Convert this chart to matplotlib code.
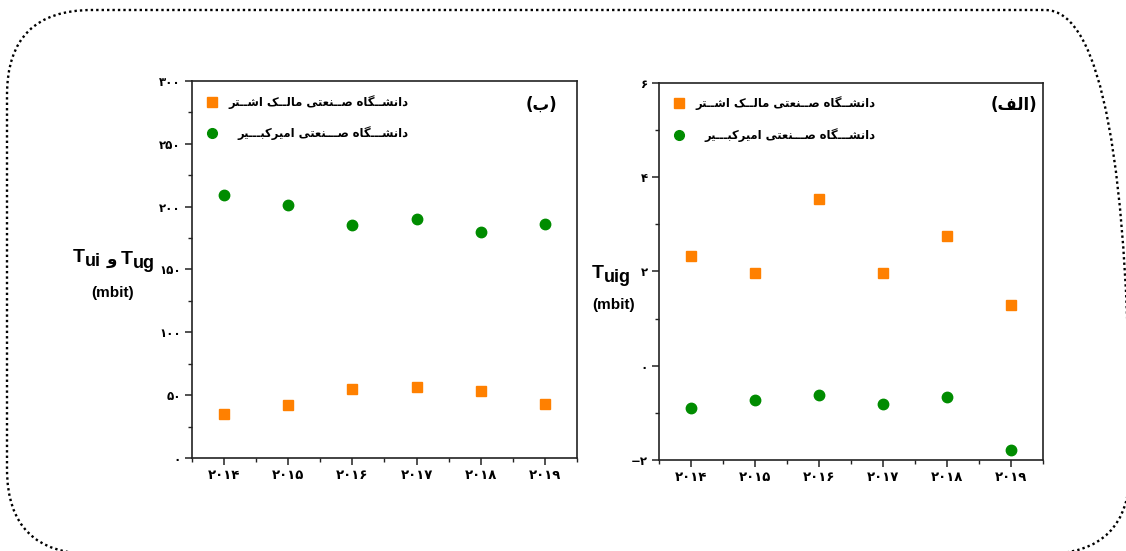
import matplotlib
matplotlib.use("Agg")
import matplotlib.pyplot as plt
from matplotlib.patches import FancyBboxPatch
from matplotlib.ticker import MultipleLocator

years = [2014, 2015, 2016, 2017, 2018, 2019]
year_labels = ["۲۰۱۴", "۲۰۱۵", "۲۰۱۶", "۲۰۱۷", "۲۰۱۸", "۲۰۱۹"]

# panel (b): T_ui and T_ug
tb_malek = [35, 42, 55, 56.4, 53.7, 43.3]
tb_amirkabir = [209, 201, 185.6, 190, 179.5, 186.4]
tb_ticks = [0, 50, 100, 150, 200, 250, 300]
tb_tick_labels = ["۰", "۵۰", "۱۰۰", "۱۵۰", "۲۰۰", "۲۵۰", "۳۰۰"]

# panel (alef): T_uig
ta_malek = [2.33, 1.96, 3.53, 1.96, 2.76, 1.28]
ta_amirkabir = [-0.90, -0.73, -0.62, -0.81, -0.67, -1.79]
ta_ticks = [-2, 0, 2, 4, 6]
ta_tick_labels = ["−۲", "۰", "۲", "۴", "۶"]

label_malek = "دانشــگاه صــنعتی مالــک اشــتر"
label_amirkabir = "دانشـــگاه صـــنعتی امیرکبـــیر"

ORANGE = "#ff8000"
GREEN = "#008c00"

# (isolated, final, initial, medial); right-joining letters have no initial form
FORMS = {
    "ا": ("\uFE8D", "\uFE8E", None, None),
    "د": ("\uFEA9", "\uFEAA", None, None),
    "ر": ("\uFEAD", "\uFEAE", None, None),
    "و": ("\uFEED", "\uFEEE", None, None),
    "ب": ("\uFE8F", "\uFE90", "\uFE91", "\uFE92"),
    "ت": ("\uFE95", "\uFE96", "\uFE97", "\uFE98"),
    "ش": ("\uFEB5", "\uFEB6", "\uFEB7", "\uFEB8"),
    "ص": ("\uFEB9", "\uFEBA", "\uFEBB", "\uFEBC"),
    "ع": ("\uFEC9", "\uFECA", "\uFECB", "\uFECC"),
    "ف": ("\uFED1", "\uFED2", "\uFED3", "\uFED4"),
    "ل": ("\uFEDD", "\uFEDE", "\uFEDF", "\uFEE0"),
    "م": ("\uFEE1", "\uFEE2", "\uFEE3", "\uFEE4"),
    "ن": ("\uFEE5", "\uFEE6", "\uFEE7", "\uFEE8"),
    "ه": ("\uFEE9", "\uFEEA", "\uFEEB", "\uFEEC"),
    "ک": ("\uFB8E", "\uFB8F", "\uFB90", "\uFB91"),
    "گ": ("\uFB92", "\uFB93", "\uFB94", "\uFB95"),
    "ی": ("\uFBFC", "\uFBFD", "\uFBFE", "\uFBFF"),
    "ـ": ("\u0640", "\u0640", "\u0640", "\u0640"),
}


def shape(text):
    # join letters into their contextual forms and reverse for right-to-left display
    out = []
    for i, c in enumerate(text):
        if c not in FORMS:
            out.append(c)
            continue
        prev = text[i - 1] if i > 0 else ""
        nxt = text[i + 1] if i + 1 < len(text) else ""
        join_prev = prev in FORMS and FORMS[prev][2] is not None
        join_next = FORMS[c][2] is not None and nxt in FORMS
        f = FORMS[c]
        if join_prev and join_next:
            out.append(f[3])
        elif join_prev:
            out.append(f[1])
        elif join_next:
            out.append(f[2])
        else:
            out.append(f[0])
    return "".join(reversed(out))


plt.rcParams["font.family"] = ["DejaVu Sans"]

fig = plt.figure(figsize=(11.26, 5.51), dpi=100)

# overlay in pixel coordinates (y measured from the bottom) for the frame and the y titles
H = 551
over = fig.add_axes([0, 0, 1, 1])
over.set_xlim(0, 1126)
over.set_ylim(0, H)
over.axis("off")
over.add_patch(FancyBboxPatch((7, H - 554), 1123, 544, boxstyle="round,pad=0,rounding_size=85",
                              fill=False, ec="black", lw=1.7, ls=(0, (1, 1.3)), clip_on=False))

lat = dict(family="Liberation Sans", fontweight="bold", va="baseline", ha="left")
over.text(73, H - 262, "T", fontsize=14, **lat)
over.text(85, H - 266, "ui", fontsize=13, **lat)
over.text(107, H - 264, "و", fontsize=12, family="DejaVu Sans", fontweight="bold", va="baseline")
over.text(121, H - 264, "T", fontsize=14, **lat)
over.text(133, H - 268, "ug", fontsize=13, **lat)
over.text(113, H - 293, "(mbit)", fontsize=11, family="Liberation Sans", fontweight="bold",
          ha="center", va="center")
over.text(592, H - 278, "T", fontsize=14, **lat)
over.text(604, H - 282, "uig", fontsize=13, **lat)
over.text(614, H - 305, "(mbit)", fontsize=11, family="Liberation Sans", fontweight="bold",
          ha="center", va="center")


def style_axis(ax, ymin, ymax, ticks, tick_labels, minor):
    ax.set_xlim(2013.5, 2019.5)
    ax.set_ylim(ymin, ymax)
    ax.set_xticks(years)
    ax.set_xticklabels(year_labels, fontsize=9.5, fontweight="bold")
    ax.set_yticks(ticks)
    ax.set_yticklabels(tick_labels, fontsize=8.5, fontweight="bold")
    ax.xaxis.set_minor_locator(MultipleLocator(0.5))
    ax.yaxis.set_minor_locator(MultipleLocator(minor))
    ax.tick_params(which="both", direction="out", top=False, right=False, color="#222222")
    ax.tick_params(which="major", length=5, width=1.1, pad=3)
    ax.tick_params(which="minor", length=3, width=1.0)
    for s in ax.spines.values():
        s.set_linewidth(1.2)
        s.set_color("#222222")


def legend(ax, x_right, y_top, y_bottom):
    ax.plot([0.052], [y_top], marker="s", ms=6.5, color=ORANGE, ls="none", transform=ax.transAxes)
    ax.plot([0.052], [y_bottom], marker="o", ms=7, color=GREEN, ls="none", transform=ax.transAxes)
    ax.text(x_right, y_top, shape(label_malek), transform=ax.transAxes, ha="right", va="center",
            fontsize=8.3, fontweight="bold")
    ax.text(x_right, y_bottom, shape(label_amirkabir), transform=ax.transAxes, ha="right",
            va="center", fontsize=8.3, fontweight="bold")


axb = fig.add_axes([0.1705, 0.1688, 0.3419, 0.6842])
axb.plot(years, tb_malek, ls="none", marker="s", ms=7, color=ORANGE)
axb.plot(years, tb_amirkabir, ls="none", marker="o", ms=7.5, color=GREEN)
style_axis(axb, 0, 300, tb_ticks, tb_tick_labels, 25)
legend(axb, 0.561, 0.944, 0.862)
axb.text(0.909, 0.936, "(" + shape("ب") + ")", transform=axb.transAxes, ha="center", va="center",
         fontsize=12, fontweight="bold")

axa = fig.add_axes([0.5853, 0.1652, 0.3410, 0.6842])
axa.plot(years, ta_malek, ls="none", marker="s", ms=7, color=ORANGE)
axa.plot(years, ta_amirkabir, ls="none", marker="o", ms=7.5, color=GREEN)
style_axis(axa, -2, 6, ta_ticks, ta_tick_labels, 1)
legend(axa, 0.5625, 0.947, 0.862)
axa.text(0.925, 0.942, "(" + shape("الف") + ")", transform=axa.transAxes, ha="center",
         va="center", fontsize=12, fontweight="bold")

fig.savefig("out.png", dpi=100)
